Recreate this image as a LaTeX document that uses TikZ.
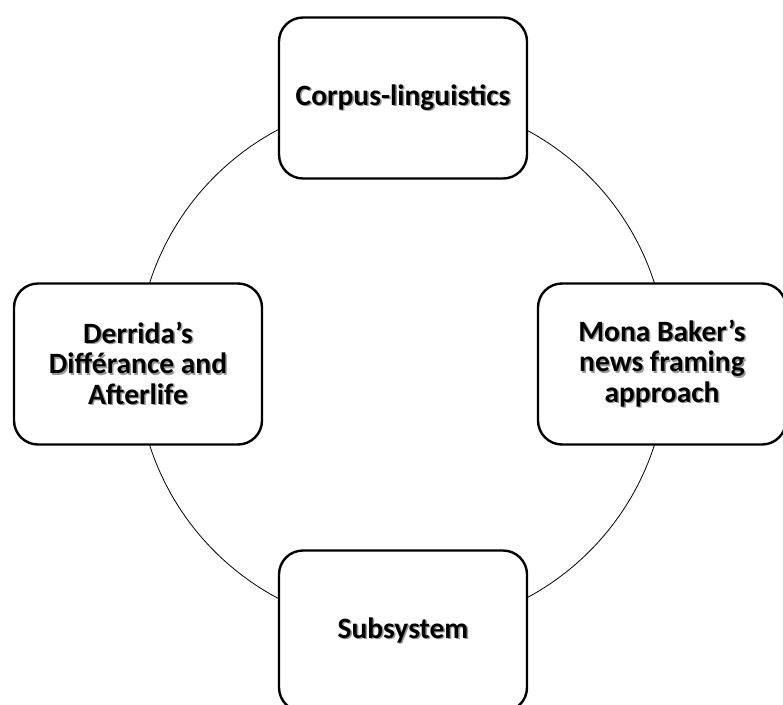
\documentclass[tikz,border=0pt]{standalone}
\usepackage{fontspec}
\setmainfont{Carlito}
\newcommand\shtxt[1]{\leavevmode\rlap{\hspace{1.5pt}\raisebox{-1.5pt}{\textcolor{black!40}{#1}}}#1}
\begin{document}
\begin{tikzpicture}[x=1pt,y=-1pt,
  box/.style={draw=black, line width=2.4pt, rounded corners=24pt, fill=white,
    minimum width=248pt, minimum height=161pt, align=center,
    font=\fontsize{29.5}{30.5}\selectfont\bfseries, inner sep=0pt},
  ring/.style={draw=black, line width=0.8pt}]
\useasboundingbox (0,0) rectangle (783,704);
\coordinate (c) at (402,364);
\draw[ring] (c) circle[radius=265];
\node[box] (top) at (403,98) {\shtxt{Corpus-linguistics}};
\node[box] (left) at (138,364) {\shtxt{Derrida’s}\\\shtxt{Différance and}\\\shtxt{Afterlife}};
\node[box] (right) at (662,364) {\shtxt{Mona Baker’s}\\\shtxt{news framing}\\\shtxt{approach}};
\node[box] (bottom) at (403,631) {\shtxt{Subsystem}};
\end{tikzpicture}
\end{document}
